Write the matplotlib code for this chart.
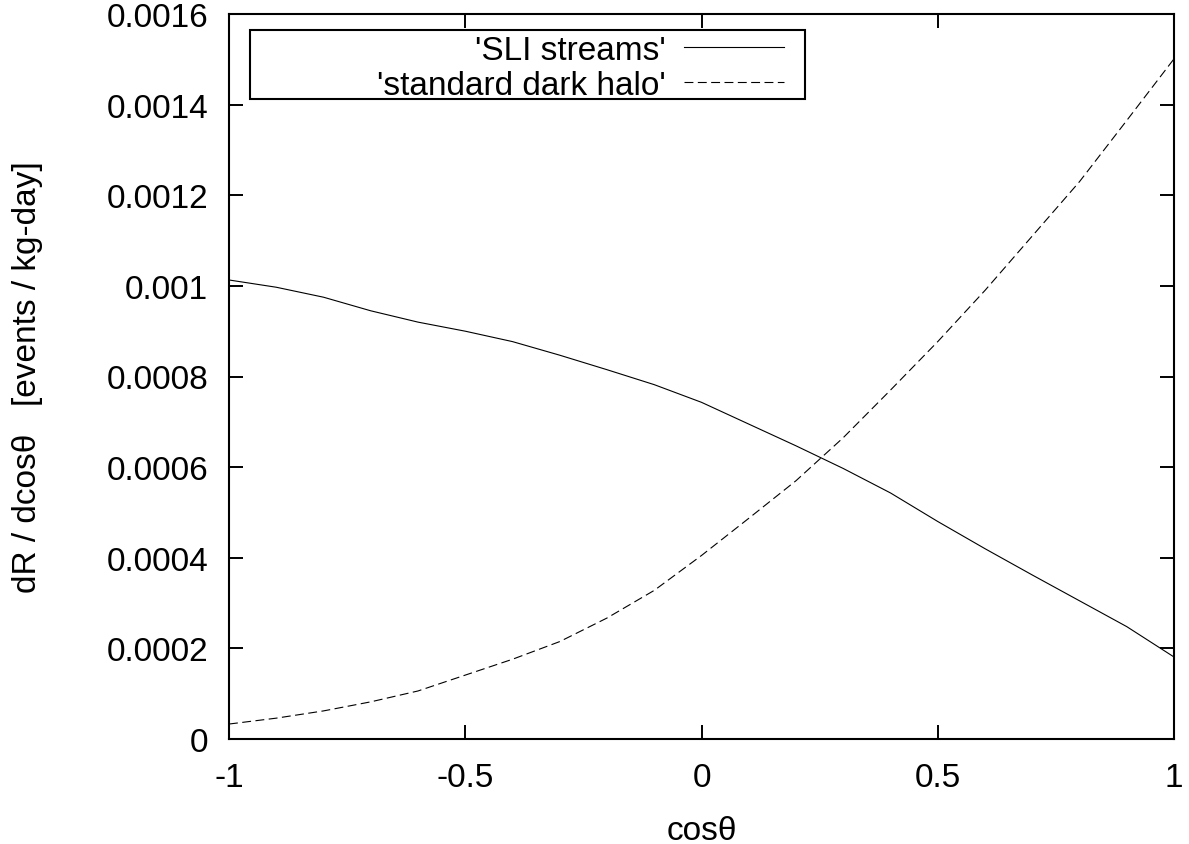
import matplotlib
matplotlib.use('Agg')
import matplotlib.pyplot as plt
from matplotlib.patches import Rectangle
from matplotlib.ticker import FormatStrFormatter

plt.rcParams['font.family'] = ['Liberation Sans', 'DejaVu Sans']

# cos(theta) grid
cos_theta = [-1.0, -0.9, -0.8, -0.7, -0.6, -0.5, -0.4, -0.3, -0.2, -0.1, 0.0,
             0.1, 0.2, 0.3, 0.4, 0.5, 0.6, 0.7, 0.8, 0.9, 1.0]

# dR/dcos(theta), events / kg-day
sli_streams = [0.001013, 0.000997, 0.000975, 0.000945, 0.000920, 0.000900,
               0.000877, 0.000847, 0.000815, 0.000782, 0.000743, 0.000695,
               0.000647, 0.000597, 0.000543, 0.000480, 0.000420, 0.000362,
               0.000305, 0.000248, 0.000181]
dark_halo = [0.000033, 0.000046, 0.000062, 0.000082, 0.000106, 0.000141,
             0.000176, 0.000215, 0.000267, 0.000328, 0.000405, 0.000487,
             0.000570, 0.000665, 0.000770, 0.000877, 0.000990, 0.001110,
             0.001230, 0.001365, 0.001501]

x_ticks = [-1, -0.5, 0, 0.5, 1]
y_ticks = [0, 0.0002, 0.0004, 0.0006, 0.0008, 0.001, 0.0012, 0.0014, 0.0016]

W, H = 1189, 845
fig = plt.figure(figsize=(W / 100, H / 100), dpi=100)
ax = fig.add_axes([229 / W, (H - 740) / H, 945 / W, 725 / H])

ax.plot(cos_theta, sli_streams, 'k-', lw=0.8, label="'SLI streams'")
ax.plot(cos_theta, dark_halo, color='k', lw=0.8, linestyle=(0, (8, 4)),
        label="'standard dark halo'")

ax.set_xlim(-1, 1)
ax.set_ylim(0, 0.0016)
ax.set_xticks(x_ticks)
ax.set_yticks(y_ticks)
ax.xaxis.set_major_formatter(FormatStrFormatter('%g'))
ax.yaxis.set_major_formatter(FormatStrFormatter('%g'))
ax.tick_params(direction='in', length=10, width=1.4, labelsize=24,
               top=True, right=True)
ax.tick_params(axis='x', pad=16.5)
ax.tick_params(axis='y', pad=15)
for sp in ax.spines.values():
    sp.set_linewidth(1.5)

ax.set_xlabel('cos\u03b8', fontsize=24, labelpad=16)
ax.set_ylabel('dR / dcos\u03b8   [events / kg-day]', fontsize=24, labelpad=46)

# gnuplot style key: text right aligned, sample on the right
leg = ax.legend(loc='upper right', frameon=False, markerfirst=False,
                fontsize=24, handlelength=3.0, handletextpad=0.55,
                labelspacing=0.11, borderpad=0, borderaxespad=0,
                bbox_to_anchor=((784 - 229) / 945, (740 - 36) / 725))
ax.add_patch(Rectangle(((250 - 229) / 945, (740 - 100) / 725),
                       (805 - 250) / 945, 69 / 725, transform=ax.transAxes,
                       fill=False, lw=1.5, ec='k', zorder=5))

fig.savefig('out.png', dpi=100)
